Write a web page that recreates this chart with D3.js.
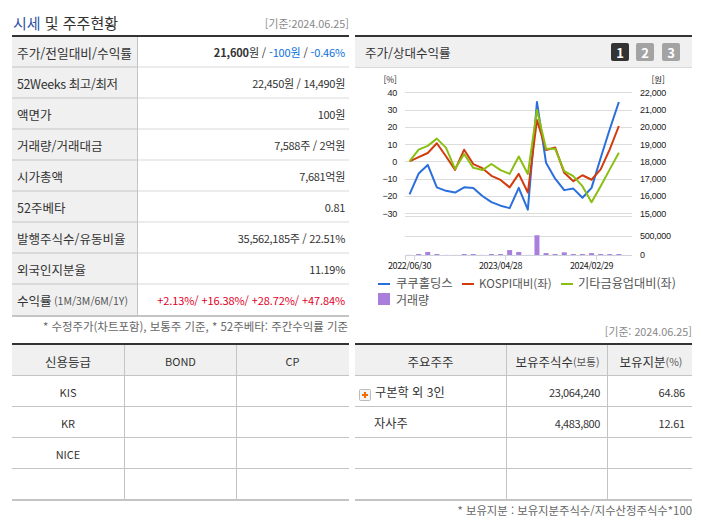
<!DOCTYPE html>
<html lang="ko">
<head>
<meta charset="utf-8">
<script src="https://cdn.jsdelivr.net/npm/d3@7"></script>
<style>
  html, body { margin: 0; padding: 0; background: #fff; }
  svg { display: block; font-family: "Noto Sans CJK KR", sans-serif; }
  text { fill: #333; }
</style>
</head>
<body>
<svg id="page" width="702" height="525"></svg>
<script>
// chart data
const months = ['2022/06/30', '2022/07/29', '2022/08/31', '2022/09/30', '2022/10/31', '2022/11/30',
  '2022/12/29', '2023/01/31', '2023/02/28', '2023/03/31', '2023/04/28', '2023/05/31',
  '2023/06/30', '2023/07/31', '2023/08/31', '2023/09/27', '2023/10/31', '2023/11/30',
  '2023/12/28', '2024/01/31', '2024/02/29', '2024/03/29', '2024/04/30', '2024/05/31'];
const stockPct = [-19, -7, -2, -15, -17, -18, -15, -15.3, -20, -23.5, -25.6, -27,
  -15.3, -27.9, 34.4, -0.8, -10, -16.6, -15.7, -21, -15.3, 2, 18.6, 34.4];
const kospiPct = [0, 2.5, 4.9, 10.5, 3, -4.9, 6.8, -1.5, -3.9, -8.3, -10.7, -15,
  -7.2, -18, 24, 6.6, 8.1, -6.6, -11.4, -8, -10.6, -4.6, 7, 20.5];
const sectorPct = [0, 6.8, 9, 13.2, 8, -4.3, 4.3, -3.7, -5, -1.5, -5, -7.2,
  2.9, -7.3, 29.8, 7.3, 7.3, -5.6, -8.5, -14.3, -23.6, -14.3, -4.6, 5];
const volume = [3000, 25000, 80000, 25000, 3000, 3000, 25000, 25000, 3000, 25000, 25000, 130000,
  80000, 3000, 520000, 50000, 25000, 70000, 25000, 25000, 50000, 25000, 25000, 25000];
const pctTicks = [40, 30, 20, 10, 0, -10, -20, -30];
const priceTicks = [22000, 21000, 20000, 19000, 18000, 17000, 16000, 15000];
const volumeTicks = [500000, 0];
const dateTicks = ['2022/06/30', '2023/04/28', '2024/02/29'];

// table text
const quoteLabels = ['주가/전일대비/수익률', '52Weeks 최고/최저', '액면가', '거래량/거래대금', '시가총액',
  '52주베타', '발행주식수/유동비율', '외국인지분율', '수익률'];
const quoteValues = ['', '22,450원 / 14,490원', '100원', '7,588주 / 2억원', '7,681억원',
  '0.81', '35,562,185주 / 22.51%', '11.19%', ''];
const creditHead = ['신용등급', 'BOND', 'CP'];
const creditRows = ['KIS', 'KR', 'NICE', ''];
const holderHead = ['주요주주', '보유주식수', '보유지분'];
const holderRows = [['구본학 외 3인', '23,064,240', '64.86'], ['자사주', '4,483,800', '12.61'], ['', '', ''], ['', '', '']];

const INK = '#333', RULE = '#d9d9d9', RULE_DK = '#c4c4c4', HEAD = '#f0f0f0';
const BLUE = '#2a6fdc', RED = '#d13c0e', GREEN = '#8abf12', PURPLE = '#a97fdb';

const svg = d3.select('#page');

function label(x, y, str, size, anchor, color, weight) {
  return svg.append('text').attr('x', x).attr('y', y).attr('font-size', size)
    .attr('text-anchor', anchor || 'start').attr('dominant-baseline', 'central')
    .attr('font-weight', weight || 400).style('fill', color || INK).text(str);
}
function box(x, y, w, h, fill) {
  return svg.append('rect').attr('x', x).attr('y', y).attr('width', w).attr('height', h).attr('fill', fill);
}
function spans(x, y, size, anchor, parts) {
  const t = label(x, y, null, size, anchor);
  parts.forEach(p => t.append('tspan').style('fill', p[1] || INK)
    .attr('font-size', p[3] || size).attr('font-weight', p[2] || 400).text(p[0]));
  return t;
}

// ---- title
spans(13, 22, 15, 'start', [['시세', '#2f55a8'], [' 및 주주현황', INK]]);
label(349, 23, '[기준:2024.06.25]', 10.8, 'end', '#888');

// ---- quote table (top left)
const rowY = d3.scaleBand().domain(d3.range(quoteLabels.length)).range([36, 315]);
box(12, 36, 125.5, 279, HEAD);
box(12, 35, 337, 2, INK);
quoteLabels.forEach((d, i) => {
  const y = rowY(i) + rowY.bandwidth() / 2 + 0.5;
  const t = label(17, y, d, i === 0 ? 12.7 : 12.5);
  if (i === 1) t.attr('letter-spacing', -0.4);
  if (quoteValues[i]) label(345, y, quoteValues[i], 11, 'end').attr('letter-spacing', -0.3);
  if (i < quoteLabels.length - 1) {
    box(12, rowY(i + 1) - 0.5, 125.5, 1, RULE_DK);
    box(137.5, rowY(i + 1) - 0.5, 211.5, 1, RULE);
  }
});
box(137, 37, 1, 278, RULE_DK);
box(12, 315, 337, 2, RULE_DK);
spans(345, rowY(0) + 16, 11, 'end', [['21,600', INK, 700], ['원 / ', INK], ['-100원', '#0b6fe0'], [' / ', INK], ['-0.46%', '#0b6fe0']])
  .attr('letter-spacing', -0.15);
label(54, rowY(8) + 16, '(1M/3M/6M/1Y)', 10.5, 'start', '#555');
label(345, rowY(8) + 16, '+2.13%/ +16.38%/ +28.72%/ +47.84%', 11, 'end', '#e2001f').attr('letter-spacing', -0.1);
label(348, 326, '* 수정주가(차트포함), 보통주 기준, * 52주베타: 주간수익률 기준', 11.45, 'end', '#666');

// ---- chart panel header
box(355, 35, 337, 2, INK);
box(355, 37, 337, 30, HEAD);
box(355, 67, 337, 1, RULE);
label(365, 52, '주가/상대수익률', 12.5);
['1', '2', '3'].forEach((d, i) => {
  const x = [611, 636, 662][i];
  svg.append('rect').attr('x', x).attr('y', 43).attr('width', 18).attr('height', 18).attr('rx', 2)
    .attr('fill', i === 0 ? '#333' : '#a3a3a3');
  label(x + 9, 52.5, d, 13, 'middle', '#fff', 700);
});

// ---- chart
const x = d3.scaleBand().domain(months).range([405, 623.4]);
const cx = d => x(d) + x.bandwidth() / 2;
const yPct = d3.scaleLinear().domain([-30, 40]).range([213.3, 92.3]);
const yPrice = d3.scaleLinear().domain([15000, 22000]).range([213.3, 92.3]);
const yVol = d3.scaleLinear().domain([0, 500000]).range([255, 236]);
const GRID_R = 632;

const grid = svg.append('g').attr('stroke', '#dcdcdc').attr('stroke-width', 1);
pctTicks.forEach(d => grid.append('line').attr('x1', 405).attr('x2', GRID_R)
  .attr('y1', Math.round(yPct(d)) + 0.5).attr('y2', Math.round(yPct(d)) + 0.5));
grid.append('line').attr('x1', 405).attr('x2', GRID_R).attr('y1', 216.5).attr('y2', 216.5);
grid.append('line').attr('x1', 405).attr('x2', GRID_R).attr('y1', yVol(500000) + 0.5).attr('y2', yVol(500000) + 0.5);

function cleanAxis(g) {
  g.select('.domain').remove();
  g.selectAll('.tick line').remove();
  g.selectAll('text').attr('font-size', 9).attr('letter-spacing', -0.25)
    .attr('font-family', 'inherit').style('fill', '#222');
}
svg.append('g').attr('transform', 'translate(397,0)')
  .call(d3.axisLeft(yPct).tickValues(pctTicks).tickSize(0).tickPadding(0))
  .call(cleanAxis);
svg.append('g').attr('transform', 'translate(640,0)')
  .call(d3.axisRight(yPrice).tickValues(priceTicks).tickSize(0).tickPadding(0).tickFormat(d3.format(',')))
  .call(cleanAxis);
svg.append('g').attr('transform', 'translate(640,0)')
  .call(d3.axisRight(yVol).tickValues(volumeTicks).tickSize(0).tickPadding(0).tickFormat(d3.format(',')))
  .call(cleanAxis);
label(397, 79, '[%]', 8.5, 'end', '#222');
label(665, 79, '[원]', 8.5, 'end', '#222');

svg.append('g').selectAll('rect').data(months).join('rect')
  .attr('x', d => cx(d) - 2.5).attr('width', 5)
  .attr('y', (d, i) => yVol(volume[i]))
  .attr('height', (d, i) => yVol(0) - yVol(volume[i]))
  .attr('fill', PURPLE);

// date axis: ticks sit on the band edge, labels under the band centre
box(405, 255, GRID_R - 405, 1, '#ccd3dc');
const tickXs = [405].concat(dateTicks.map(d => x(d) + x.bandwidth()));
svg.append('g').attr('stroke', '#ccd3dc').selectAll('line').data(tickXs).join('line')
  .attr('x1', d => d + 0.5).attr('x2', d => d + 0.5).attr('y1', 255).attr('y2', 260);
dateTicks.forEach(d => label(cx(d), 265.5, d, 9, 'middle', '#222').attr('letter-spacing', -0.4));

const seriesLine = ys => d3.line().x((d, i) => cx(months[i])).y(d => ys(d));
[[stockPct, BLUE], [kospiPct, RED], [sectorPct, GREEN]].forEach(s => {
  svg.append('path').datum(s[0]).attr('d', seriesLine(yPct)).attr('fill', 'none')
    .attr('stroke', s[1]).attr('stroke-width', 2).attr('stroke-linejoin', 'round');
});

// legend
[[378, 396, '쿠쿠홀딩스', BLUE, 12.3], [462, 479, 'KOSPI대비(좌)', RED, 11.5], [561, 578, '기타금융업대비(좌)', GREEN, 12.2]].forEach(d => {
  box(d[0], 283, 12, 2, d[3]);
  label(d[1], 283, d[2], d[4], 'start', '#555');
});
box(378, 293, 12, 12, PURPLE);
label(396, 299, '거래량', 12, 'start', '#555');

// ---- lower tables
function gridTable(x0, x1, cols, head, draw) {
  const ys = [375, 406, 437, 468, 499];
  box(x0, 343, x1 - x0, 2, INK);
  box(x0, 345, x1 - x0, 30, HEAD);
  ys.forEach((y, i) => box(x0, y, x1 - x0, i === 4 ? 2 : 1, RULE_DK));
  cols.forEach(c => box(c, 345, 1, 154, RULE_DK));
  head();
  draw(ys);
}
gridTable(12, 349, [124, 236], () => {
  label(68, 361, creditHead[0], 12.5, 'middle');
  label(180.5, 361, creditHead[1], 11, 'middle');
  label(292.5, 361, creditHead[2], 11, 'middle');
}, ys => {
  creditRows.forEach((d, i) => label(68, ys[i] + 16.5, d, 11, 'middle'));
});

label(692, 331, '[기준: 2024.06.25]', 10.8, 'end', '#888');
gridTable(355, 692, [506, 607], () => {
  label(430.5, 361, holderHead[0], 12.5, 'middle');
  spans(557.5, 361, 12.5, 'middle', [[holderHead[1]], ['(보통)', '#555', 400, 10.5]]);
  spans(651, 361, 12.5, 'middle', [[holderHead[2]], ['(%)', '#555', 400, 10.5]]);
}, ys => {
  holderRows.forEach((r, i) => {
    if (!r[0]) return;
    const y = ys[i] + 16.5;
    label(i === 0 ? 375 : 374, y, r[0], 12.2);
    label(600, y, r[1], 11, 'end').attr('letter-spacing', -0.4);
    label(685, y, r[2], 11, 'end').attr('letter-spacing', -0.2);
  });
});

// expand icon next to the first holder
svg.append('rect').attr('x', 359.5).attr('y', 389.5).attr('width', 11).attr('height', 11).attr('rx', 1)
  .attr('fill', '#f4f4f4').attr('stroke', '#bbb');
box(362, 394, 6, 2, '#f06a00');
box(364, 392, 2, 6, '#f06a00');

label(692, 510, '* 보유지분 : 보유지분주식수/지수산정주식수*100', 11.35, 'end', '#666');
</script>
</body>
</html>
